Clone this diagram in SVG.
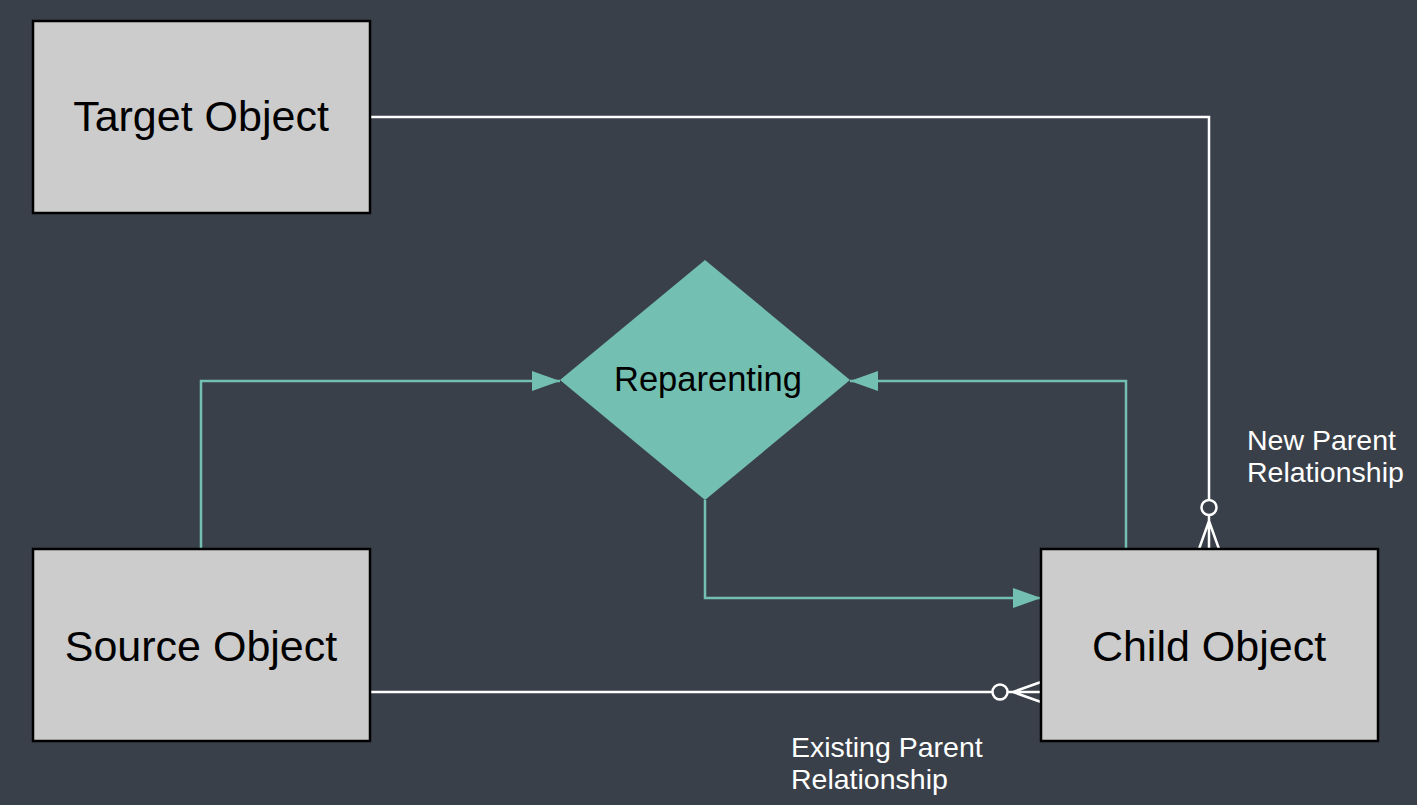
<svg xmlns="http://www.w3.org/2000/svg" width="1417" height="805" viewBox="0 0 1417 805">
<style>
.box{fill:#cccccc;stroke:#000;stroke-width:2.5}
.lbl{font-family:"Liberation Sans",Arial,sans-serif;fill:#000}
.note{font-family:"Liberation Sans",Arial,sans-serif;fill:#fff;font-size:28.5px}
.t{fill:none;stroke:#73bfb1;stroke-width:2.5}
.w{fill:none;stroke:#fff;stroke-width:2.5}
</style>
<defs>
<marker id="ah" markerUnits="userSpaceOnUse" markerWidth="30" markerHeight="22" refX="28" refY="10" orient="auto">
<path d="M0,0 L28,10 L0,20 Z" fill="#73bfb1"/>
</marker>
</defs>
<rect width="1417" height="805" fill="#3a4049"/>
<g id="connectors">
<path class="t" d="M201,549 V381 H560" marker-end="url(#ah)"/>
<path class="t" d="M1126,549 V381 H850" marker-end="url(#ah)"/>
<path class="t" d="M705,500 V598 H1041" marker-end="url(#ah)"/>
<path class="w" d="M370,117 H1209 V499"/>
<circle class="w" cx="1209" cy="507.5" r="7.5"/>
<path class="w" d="M1209,515 V549 M1209,521 L1199,549 M1209,521 L1219,549"/>
<path class="w" d="M370,692 H992"/>
<circle class="w" cx="1000" cy="692" r="7.5"/>
<path class="w" d="M1008,692 H1041 M1013,692 L1041,682 M1013,692 L1041,702"/>
</g>
<g id="target">
<rect class="box" x="33" y="21" width="337" height="192"/>
<text class="lbl" x="201" y="131" font-size="43" text-anchor="middle">Target Object</text>
</g>
<g id="source">
<rect class="box" x="33" y="549" width="337" height="192"/>
<text class="lbl" x="201" y="661" font-size="43" text-anchor="middle">Source Object</text>
</g>
<g id="child">
<rect class="box" x="1041" y="549" width="337" height="192"/>
<text class="lbl" x="1209" y="661" font-size="43" text-anchor="middle">Child Object</text>
</g>
<g id="reparenting">
<path d="M705,260 L850,380 L705,500 L560,380 Z" fill="#73bfb1"/>
<text class="lbl" x="708" y="391" font-size="34.5" text-anchor="middle">Reparenting</text>
</g>
<g id="labels">
<text class="note" x="1247" y="450">New Parent</text>
<text class="note" x="1247" y="482">Relationship</text>
<text class="note" x="791" y="757">Existing Parent</text>
<text class="note" x="791" y="789">Relationship</text>
</g>
</svg>
